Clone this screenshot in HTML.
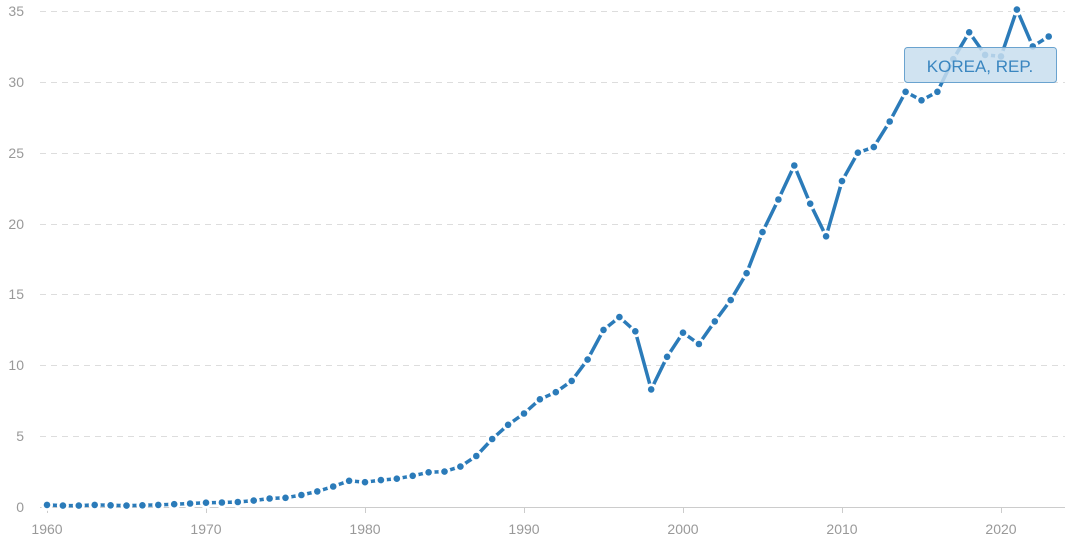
<!DOCTYPE html>
<html><head><meta charset="utf-8"><style>
html,body{margin:0;padding:0;background:#fff;width:1065px;height:549px;overflow:hidden}
svg{display:block;font-family:"Liberation Sans",sans-serif}
</style></head><body>
<svg id="c" width="1065" height="549" xmlns="http://www.w3.org/2000/svg">
<g stroke="#dddddd" stroke-width="1" stroke-dasharray="6,5">
<line x1="40" x2="1065" y1="11.5" y2="11.5"/><line x1="40" x2="1065" y1="82.5" y2="82.5"/>
<line x1="40" x2="1065" y1="153.5" y2="153.5"/><line x1="40" x2="1065" y1="224.5" y2="224.5"/>
<line x1="40" x2="1065" y1="294.5" y2="294.5"/><line x1="40" x2="1065" y1="365.5" y2="365.5"/>
<line x1="40" x2="1065" y1="436.5" y2="436.5"/>
</g>
<line x1="40" x2="1065" y1="507.5" y2="507.5" stroke="#cccccc"/>
<g fill="#999" font-size="14" text-anchor="end">
<text x="24" y="16">35</text><text x="24" y="87">30</text><text x="24" y="158">25</text>
<text x="24" y="229">20</text><text x="24" y="299">15</text><text x="24" y="370">10</text>
<text x="24" y="441">5</text><text x="24" y="512">0</text>
</g>
<g stroke="#ccc"><line x1="47.5" x2="47.5" y1="507" y2="513"/><line x1="206.5" x2="206.5" y1="507" y2="513"/><line x1="365.5" x2="365.5" y1="507" y2="513"/><line x1="524.5" x2="524.5" y1="507" y2="513"/><line x1="683.5" x2="683.5" y1="507" y2="513"/><line x1="842.5" x2="842.5" y1="507" y2="513"/><line x1="1001.5" x2="1001.5" y1="507" y2="513"/></g>
<g fill="#999" font-size="14" text-anchor="middle">
<text x="47" y="534">1960</text><text x="206" y="534">1970</text><text x="365" y="534">1980</text>
<text x="524" y="534">1990</text><text x="683" y="534">2000</text><text x="842" y="534">2010</text><text x="1001" y="534">2020</text>
</g>
<g id="s"></g>
<rect x="904.5" y="47.5" width="152" height="35" rx="3" fill="rgba(200,222,238,0.85)" stroke="#6aa3cf" stroke-width="1"/>
<text x="980" y="72" text-anchor="middle" font-size="17" fill="#3a86c0">KOREA, REP.</text>
</svg>
<script>
var d=[0.15,0.1,0.1,0.15,0.12,0.1,0.12,0.15,0.2,0.25,0.3,0.32,0.35,0.45,0.6,0.65,0.85,1.1,1.45,1.85,1.75,1.9,2.0,2.2,2.45,2.5,2.85,3.6,4.8,5.8,6.6,7.6,8.1,8.9,10.4,12.5,13.4,12.4,8.3,10.6,12.3,11.5,13.1,14.6,16.5,19.4,21.7,24.1,21.4,19.1,23.0,25.0,25.4,27.2,29.3,28.7,29.3,31.6,33.5,31.9,31.8,35.1,32.5,33.2];
var g=document.getElementById('s'),h='',p=[];
d.forEach(function(v,i){p.push([47+i*15.9,507-v*14.171]);});
h+='<polyline fill="none" stroke="#2b7bb9" stroke-width="3.5" stroke-linejoin="round" points="'+p.map(function(q){return q[0].toFixed(1)+','+q[1].toFixed(1)}).join(' ')+'"/>';
p.forEach(function(q){h+='<circle cx="'+q[0].toFixed(1)+'" cy="'+q[1].toFixed(1)+'" r="6" fill="#fff"/>';});
p.forEach(function(q){h+='<circle cx="'+q[0].toFixed(1)+'" cy="'+q[1].toFixed(1)+'" r="3.3" fill="#2b7bb9"/>';});
g.innerHTML=h;
</script>
</body></html>
